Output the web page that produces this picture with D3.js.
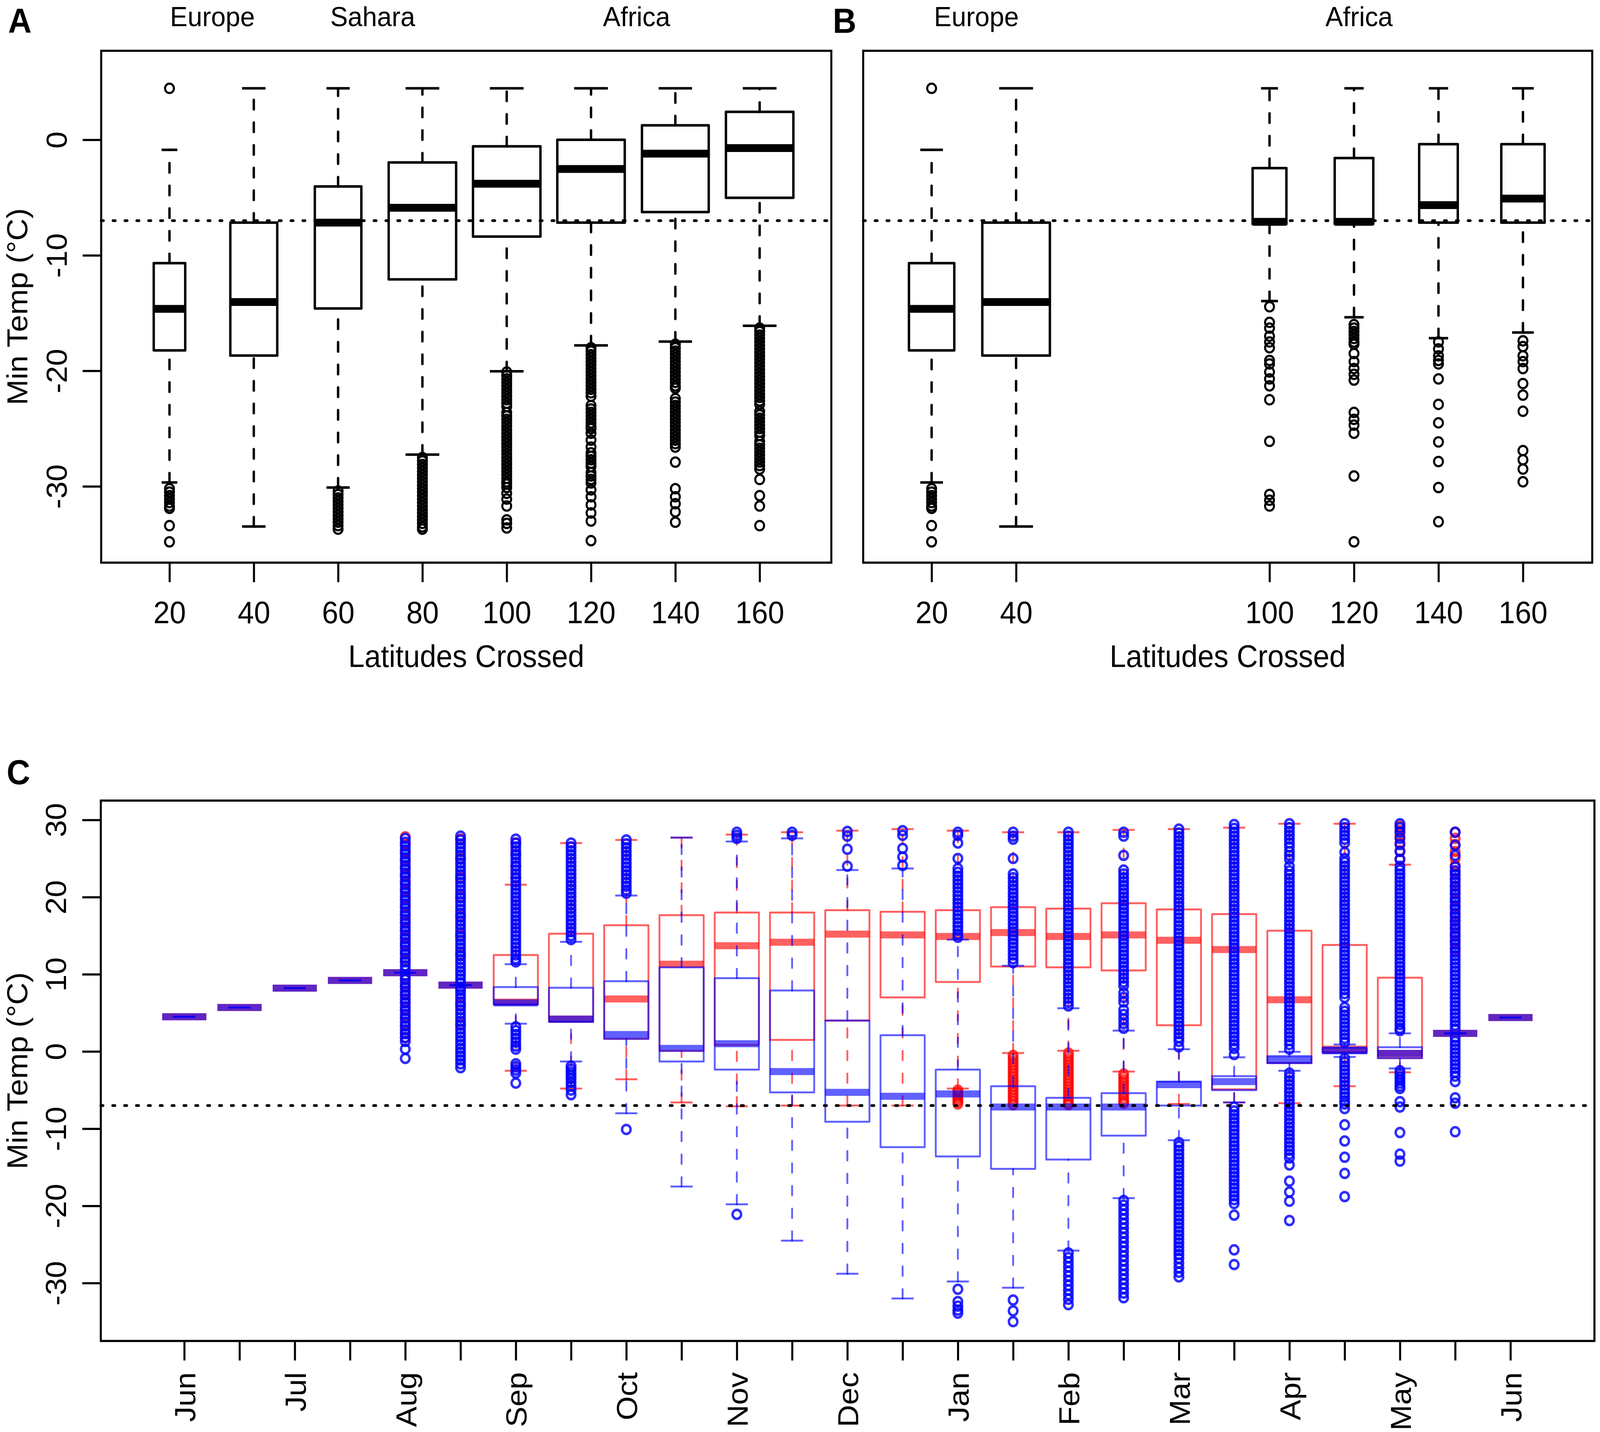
<!DOCTYPE html>
<html>
<head>
<meta charset="utf-8">
<script src="https://cdn.jsdelivr.net/npm/d3@7"></script>
<style>
  html, body { margin: 0; padding: 0; background: #ffffff; overflow: hidden; width: 100%; height: 100%; }
  svg { display: block; width: 100vw; height: 100vh; }
</style>
</head>
<body>
<svg id="chart" viewBox="0 0 4317 3665" preserveAspectRatio="none"></svg>
<script>
// ===================== DATA =====================
// Panel A : latitudes crossed (all birds)
const latA = [20, 40, 60, 80, 100, 120, 140, 160];
const nA   = [218, 484, 476, 1000, 1000, 1000, 980, 1000];
const loA  = [-29.66, -33.47, -30.1, -27.25, -20.04, -17.8, -17.47, -16.1];
const q1A  = [-18.23, -18.68, -14.6, -12.08, -8.38, -7.17, -6.26, -5.02];
const medA = [-14.64, -14.04, -7.17, -5.89, -3.81, -2.53, -1.2, -0.72];
const q3A  = [-10.68, -7.17, -4.04, -1.96, -0.57, 0.0, 1.25, 2.42];
const hiA  = [-0.87, 4.45, 4.45, 4.45, 4.45, 4.45, 4.45, 4.45];
const outA = [
  [4.45, -30.2, -30.5, -30.8, -31.1, -31.4, -31.7, -31.9, -33.4, -34.8],
  [],
  [-30.4, -30.7, -31.0, -31.3, -31.6, -31.9, -32.2, -32.5, -32.8, -33.1, -33.4, -33.7],
  [-27.5, -27.8, -28.1, -28.4, -28.7, -29.0, -29.3, -29.6, -29.9, -30.2, -30.5, -30.8, -31.1, -31.4, -31.7, -32.0, -32.3, -32.6, -32.9, -33.2, -33.5, -33.7],
  [-20.1, -20.4, -20.7, -21.0, -21.3, -21.6, -21.9, -22.2, -22.5, -22.8, -23.1, -23.6, -23.9, -24.2, -24.5, -24.8, -25.1, -25.4, -25.7, -26.0, -26.3, -26.6, -26.9, -27.2, -27.5, -27.8, -28.1, -28.4, -28.7, -29.0, -29.3, -29.6, -29.8, -30.1, -30.6, -31.1, -31.7, -32.9, -33.2, -33.6],
  [-18.0, -18.3, -18.6, -18.9, -19.2, -19.5, -19.8, -20.1, -20.4, -20.7, -21.0, -21.3, -21.6, -21.9, -22.2, -23.0, -23.3, -23.6, -23.9, -24.2, -24.5, -24.8, -25.0, -25.4, -26.0, -26.6, -27.1, -27.4, -27.7, -28.0, -28.3, -28.8, -29.1, -29.4, -29.7, -30.3, -30.9, -31.6, -32.3, -33.0, -34.7],
  [-17.7, -18.0, -18.3, -18.6, -18.9, -19.2, -19.5, -19.8, -20.1, -20.4, -20.7, -21.0, -21.3, -21.5, -22.4, -22.7, -23.0, -23.3, -23.6, -23.9, -24.2, -24.5, -24.8, -25.1, -25.4, -25.7, -26.0, -26.3, -26.6, -27.9, -30.2, -30.9, -31.5, -32.2, -33.1],
  [-16.3, -16.6, -16.9, -17.2, -17.5, -17.8, -18.1, -18.4, -18.7, -19.0, -19.3, -19.6, -19.9, -20.2, -20.5, -20.8, -21.1, -21.4, -21.7, -22.0, -22.3, -22.6, -22.9, -23.5, -23.8, -24.1, -24.4, -24.7, -25.0, -25.3, -25.6, -26.1, -26.4, -26.7, -27.0, -27.3, -27.6, -27.9, -28.2, -28.5, -29.4, -30.8, -31.7, -33.4]
];
const regionsA = [{ text: "Europe", at: 1.51 }, { text: "Sahara", at: 3.41 }, { text: "Africa", at: 6.54 }];

// Panel B
const latB = [20, 40, 100, 120, 140, 160];
const nB   = [218, 484, 121, 158, 158, 199];
const loB  = [-29.66, -33.47, -13.96, -15.36, -17.17, -16.68];
const q1B  = [-18.23, -18.68, -7.3, -7.28, -7.17, -7.17];
const medB = [-14.64, -14.04, -7.1, -7.1, -5.66, -5.09];
const q3B  = [-10.68, -7.17, -2.45, -1.58, -0.38, -0.38];
const hiB  = [-0.87, 4.45, 4.45, 4.45, 4.45, 4.45];
const outB = [
  [4.45, -30.2, -30.5, -30.8, -31.1, -31.4, -31.7, -31.9, -33.4, -34.8],
  [],
  [-14.45, -15.8, -16.3, -17.0, -17.5, -18.0, -19.1, -19.4, -20.1, -20.7, -21.3, -22.5, -26.1, -30.7, -31.2, -31.7],
  [-16.0, -16.3, -16.6, -16.9, -17.2, -17.5, -17.7, -18.5, -19.2, -19.8, -20.3, -20.8, -23.6, -24.2, -24.7, -25.4, -29.1, -34.8],
  [-17.5, -18.1, -18.7, -19.1, -19.4, -20.7, -22.9, -24.5, -26.15, -27.85, -30.1, -33.06],
  [-17.4, -17.9, -18.7, -19.2, -19.8, -21.1, -22.1, -23.5, -26.9, -27.7, -28.5, -29.6]
];
const regionsB = [{ text: "Europe", at: 1.53 }, { text: "Africa", at: 6.06 }];

const yTicksAB = [0, -10, -20, -30];
const thresholdTemp = -7;

// Panel C : half-month slots, red and blue series
const monthLabelsC = ["Jun", "", "Jul", "", "Aug", "", "Sep", "", "Oct", "", "Nov", "", "Dec", "", "Jan", "", "Feb", "", "Mar", "", "Apr", "", "May", "", "Jun"];
const yTicksC = [30, 20, 10, 0, -10, -20, -30];

const loRed  = [4.5, 5.7, 8.2, 9.2, 10.2, 8.6, -2.5, -4.8, -3.6, -6.6, -7.1, -7.0, -7.0, -7.0, -4.8, -0.2, 0.1, -2.6, -6.8, -6.6, -6.7, -4.5, -2.7, 2.35, 4.4];
const q1Red  = [4.5, 5.7, 8.2, 9.2, 10.2, 8.6, 6.1, 3.85, 1.64, 0.1, 0.85, 1.5, 4.0, 7.0, 9.0, 11.0, 10.9, 10.5, 3.4, -4.9, -1.5, -0.1, -0.85, 2.35, 4.4];
const medRed = [4.5, 5.7, 8.2, 9.2, 10.2, 8.6, 6.4, 4.2, 6.8, 11.3, 13.7, 14.15, 15.2, 15.1, 14.9, 15.4, 14.9, 15.1, 14.4, 13.2, 6.7, 0.3, -0.25, 2.35, 4.4];
const q3Red  = [4.5, 5.7, 8.2, 9.2, 10.2, 8.6, 12.5, 15.25, 16.35, 17.66, 18.0, 18.0, 18.3, 18.1, 18.3, 18.7, 18.5, 19.2, 18.4, 17.8, 15.65, 13.8, 9.56, 2.35, 4.4];
const hiRed  = [4.5, 5.7, 8.2, 9.2, 10.2, 8.6, 21.6, 27.0, 27.4, 27.7, 28.1, 28.4, 28.6, 28.8, 28.6, 28.4, 28.4, 28.7, 28.8, 29.0, 29.5, 29.5, 24.2, 2.35, 4.4];
const outRed = [
  [], [], [], [],
  [27.8, 26.8, 25.8, 24.8, 23.8, 22.8, 21.8, 20.8, 19.8, 18.8, 17.8, 16.8, 15.8, 14.8, 13.8, 12.8, 11.8, 9.4, 8.4, 7.4, 6.4, 5.4, 4.4, 3.4, 2.4, 1.8],
  [27.5, 25.0, 22.5, 20.0, 17.5, 15.0, 12.5, 6.0, 3.5],
  [27.0, 25.5, 24.0, 22.5],
  [], [], [], [], [], [], [],
  [-5.0, -5.3, -5.6, -5.9, -6.2, -6.5, -6.8],
  [-0.5, -0.9, -1.3, -1.7, -2.1, -2.5, -2.9, -3.3, -3.7, -4.1, -4.5, -4.9, -5.3, -5.7, -6.1, -6.5, -6.9],
  [-0.2, -0.6, -1.0, -1.4, -1.8, -2.2, -2.6, -3.0, -3.4, -3.8, -4.2, -4.6, -5.0, -5.4, -5.8, -6.2, -6.6, -6.9],
  [-2.9, -3.3, -3.7, -4.1, -4.5, -4.9, -5.3, -5.7, -6.1, -6.5, -6.7],
  [], [], [], [],
  [24.9, 26.0, 27.0, 27.9, 28.6, 29.2],
  [28.4, 27.6, 26.8, 25.9, 25.0, 24.1, 23.2, 22.3, 21.4, 20.5, 19.6, 18.7, 17.8, 16.9, 16.0, 15.1, 14.2, 13.3],
  []
];

const loBlue  = [4.5, 5.7, 8.2, 9.2, 10.2, 8.6, 3.6, -1.3, -8.0, -17.5, -19.8, -24.5, -28.8, -32.0, -29.8, -30.6, -25.8, -19.0, -11.5, -6.6, -2.5, -0.7, -2.2, 2.35, 4.4];
const q1Blue  = [4.5, 5.7, 8.2, 9.2, 10.2, 8.6, 6.1, 3.85, 1.64, -1.3, -2.35, -5.3, -9.1, -12.4, -13.6, -15.2, -14.0, -10.9, -7.0, -5.0, -1.5, -0.2, -0.85, 2.35, 4.4];
const medBlue = [4.5, 5.7, 8.2, 9.2, 10.2, 8.6, 6.3, 4.2, 2.2, 0.4, 1.0, -2.6, -5.3, -5.8, -5.5, -7.2, -7.2, -7.2, -4.3, -3.9, -1.1, 0.1, -0.25, 2.35, 4.4];
const q3Blue  = [4.5, 5.7, 8.2, 9.2, 10.2, 8.6, 8.35, 8.25, 9.1, 10.9, 9.5, 7.9, 4.0, 2.1, -2.35, -4.5, -6.0, -5.4, -3.9, -3.2, -0.6, 0.5, 0.55, 2.35, 4.4];
const hiBlue  = [4.5, 5.7, 8.2, 9.2, 10.2, 8.6, 11.3, 14.2, 20.2, 27.7, 27.2, 27.6, 23.5, 23.7, 14.5, 11.1, 5.6, 2.7, 0.3, -0.75, -0.05, 0.9, 2.35, 2.35, 4.4];
const outBlue = [
  [], [], [], [],
  [27.6, 27.1, 26.6, 26.1, 25.6, 25.1, 24.6, 24.1, 23.6, 23.1, 22.6, 22.1, 21.6, 21.1, 20.6, 20.1, 19.6, 19.1, 18.6, 18.1, 17.6, 17.1, 16.6, 16.1, 15.6, 15.1, 14.6, 14.1, 13.6, 13.1, 12.6, 12.1, 11.6, 11.1, 10.6, 9.8, 9.3, 8.8, 8.3, 7.8, 7.3, 6.8, 6.3, 5.8, 5.3, 4.8, 4.3, 3.8, 3.3, 2.8, 2.3, 1.8, 1.3, 0.3, -0.9],
  [27.9, 27.4, 26.9, 26.4, 25.9, 25.4, 24.9, 24.4, 23.9, 23.4, 22.9, 22.4, 21.9, 21.4, 20.9, 20.4, 19.9, 19.4, 18.9, 18.4, 17.9, 17.4, 16.9, 16.4, 15.9, 15.4, 14.9, 14.4, 13.9, 13.4, 12.9, 12.4, 11.9, 11.4, 10.9, 10.4, 9.9, 9.4, 8.9, 8.3, 7.9, 7.4, 6.9, 6.4, 5.9, 5.4, 4.9, 4.4, 3.9, 3.4, 2.9, 2.4, 1.9, 1.4, 0.9, 0.4, -0.1, -0.6, -1.1, -1.6, -2.1],
  [27.5, 27.0, 26.5, 26.0, 25.5, 25.0, 24.5, 24.0, 23.5, 23.0, 22.5, 22.0, 21.5, 21.0, 20.5, 20.0, 19.5, 19.0, 18.5, 18.0, 17.5, 17.0, 16.5, 16.0, 15.5, 15.0, 14.5, 14.0, 13.5, 13.0, 12.5, 12.0, 11.6, 3.2, 2.7, 2.2, 1.7, 1.2, 0.7, 0.3, -1.6, -2.0, -2.4, -2.8, -4.1],
  [27.0, 26.5, 26.0, 25.5, 25.0, 24.5, 24.0, 23.5, 23.0, 22.5, 22.0, 21.5, 21.0, 20.5, 20.0, 19.5, 19.0, 18.5, 18.0, 17.5, 17.0, 16.5, 16.0, 15.5, 15.0, 14.5, -1.9, -2.3, -2.7, -3.1, -3.5, -4.0, -4.5, -5.0, -5.6],
  [27.4, 26.9, 26.4, 25.9, 25.4, 24.9, 24.4, 23.9, 23.4, 22.9, 22.4, 21.9, 21.4, 20.9, 20.5, -10.1],
  [],
  [28.4, 28.0, 27.6, -21.1],
  [28.4, 28.0],
  [28.5, 27.9, 26.2, 24.0],
  [28.6, 28.0, 26.3, 25.2, 24.1],
  [28.4, 28.0, 27.0, 25.0, 23.7, 23.2, 22.7, 22.2, 21.7, 21.2, 20.7, 20.2, 19.7, 19.2, 18.7, 18.2, 17.7, 17.2, 16.7, 16.2, 15.7, 15.2, 14.8, -30.8, -32.4, -33.0, -33.5, -33.9],
  [28.4, 27.9, 27.5, 25.0, 23.0, 22.5, 22.0, 21.5, 21.0, 20.5, 20.0, 19.5, 19.0, 18.5, 18.0, 17.5, 17.0, 16.5, 16.0, 15.5, 15.0, 14.5, 14.0, 13.5, 13.0, 12.5, 12.0, 11.5, -32.2, -33.6, -35.0],
  [28.4, 27.9, 27.4, 26.9, 26.4, 25.9, 25.4, 24.9, 24.4, 23.9, 23.4, 22.9, 22.4, 21.9, 21.4, 20.9, 20.4, 19.9, 19.4, 18.9, 18.4, 17.9, 17.4, 16.9, 16.4, 15.9, 15.4, 14.9, 14.4, 13.9, 13.4, 12.9, 12.4, 11.9, 11.4, 10.9, 10.4, 9.9, 9.4, 8.9, 8.4, 7.9, 7.4, 6.9, 6.4, 5.9, -26.1, -26.7, -27.3, -27.9, -28.5, -29.1, -29.7, -30.3, -30.9, -31.5, -32.1, -32.8],
  [28.4, 27.9, 25.4, 23.5, 23.0, 22.5, 22.0, 21.5, 21.0, 20.5, 20.0, 19.5, 19.0, 18.5, 18.0, 17.5, 17.0, 16.5, 16.0, 15.5, 15.0, 14.5, 14.0, 13.5, 13.0, 12.5, 12.0, 11.5, 11.0, 10.5, 10.0, 9.5, 9.0, 8.5, 7.6, 7.0, 6.4, 5.4, 4.8, 4.2, 3.6, 3.0, -19.3, -19.9, -20.5, -21.1, -21.7, -22.3, -22.9, -23.5, -24.1, -24.7, -25.3, -25.9, -26.5, -27.1, -27.7, -28.3, -28.9, -29.5, -30.1, -30.7, -31.3, -31.9],
  [28.8, 28.3, 27.8, 27.3, 26.8, 26.3, 25.8, 25.3, 24.8, 24.3, 23.8, 23.3, 22.8, 22.3, 21.8, 21.3, 20.8, 20.3, 19.8, 19.3, 18.8, 18.3, 17.8, 17.3, 16.8, 16.3, 15.8, 15.3, 14.8, 14.3, 13.8, 13.3, 12.8, 12.3, 11.8, 11.3, 10.8, 10.3, 9.8, 9.3, 8.8, 8.3, 7.8, 7.3, 6.8, 6.3, 5.8, 5.3, 4.8, 4.3, 3.8, 3.3, 2.8, 2.3, 1.8, 1.3, 0.6, -11.8, -12.3, -12.8, -13.3, -13.8, -14.3, -14.8, -15.3, -15.8, -16.3, -16.8, -17.3, -17.8, -18.3, -18.8, -19.3, -19.8, -20.3, -20.8, -21.3, -21.8, -22.3, -22.8, -23.3, -23.8, -24.3, -24.8, -25.3, -25.8, -26.3, -26.8, -27.4, -28.0, -28.6, -29.2],
  [29.4, 28.9, 28.4, 27.9, 27.4, 26.9, 26.4, 25.9, 25.4, 24.9, 24.4, 23.9, 23.4, 22.9, 22.4, 21.9, 21.4, 20.9, 20.4, 19.9, 19.4, 18.9, 18.4, 17.9, 17.4, 16.9, 16.4, 15.9, 15.4, 14.9, 14.4, 13.9, 13.4, 12.9, 12.4, 11.9, 11.4, 10.9, 10.4, 9.9, 9.4, 8.9, 8.4, 7.9, 7.4, 6.9, 6.4, 5.9, 5.4, 4.9, 4.4, 3.9, 3.4, 2.9, 2.4, 1.9, 1.4, 0.9, 0.4, -0.4, -7.2, -7.7, -8.2, -8.7, -9.2, -9.7, -10.2, -10.7, -11.2, -11.7, -12.2, -12.7, -13.2, -13.7, -14.2, -14.7, -15.2, -15.7, -16.2, -16.7, -17.2, -17.7, -18.2, -18.7, -19.2, -19.7, -21.2, -25.7, -27.6],
  [29.5, 29.0, 28.5, 28.0, 27.5, 27.0, 26.5, 25.9, 25.4, 24.9, 24.0, 23.4, 22.9, 22.4, 21.9, 21.4, 20.9, 20.4, 19.9, 19.4, 18.9, 18.4, 17.9, 17.4, 16.9, 16.4, 15.9, 15.4, 14.9, 14.4, 13.9, 13.4, 12.9, 12.4, 11.9, 11.4, 10.9, 10.4, 9.9, 9.4, 8.9, 8.4, 7.9, 7.4, 6.9, 6.4, 5.9, 5.4, 4.9, 4.4, 3.9, 3.4, 2.9, 2.4, 1.9, 1.4, 0.9, 0.3, -2.8, -3.3, -3.8, -4.3, -4.8, -5.3, -5.8, -6.3, -6.8, -7.3, -7.8, -8.3, -8.8, -9.3, -9.8, -10.3, -10.8, -11.3, -11.8, -12.3, -12.8, -13.3, -13.8, -14.7, -16.8, -18.2, -19.4, -21.9],
  [29.5, 29.0, 28.5, 28.0, 27.5, 27.0, 25.8, 25.0, 24.5, 24.0, 23.5, 23.0, 22.5, 22.0, 21.5, 21.0, 20.5, 20.0, 19.5, 19.0, 18.5, 18.0, 17.5, 17.0, 16.5, 16.0, 15.5, 15.0, 14.5, 14.0, 13.5, 13.0, 12.5, 12.0, 11.5, 11.0, 10.5, 10.0, 9.5, 9.0, 8.5, 8.0, 7.5, 7.0, 5.7, 5.2, 4.7, 4.2, 3.7, 3.2, 2.7, 2.2, 1.7, 1.2, -0.9, -1.4, -1.9, -2.4, -2.9, -3.4, -3.9, -4.4, -4.9, -5.4, -5.9, -6.4, -6.8, -7.4, -9.5, -11.6, -13.7, -15.8, -18.8],
  [29.5, 29.0, 28.4, 27.6, 26.8, 25.9, 24.9, 24.0, 23.5, 23.0, 22.5, 22.0, 21.5, 21.0, 20.5, 20.0, 19.5, 19.0, 18.5, 18.0, 17.5, 17.0, 16.5, 16.0, 15.5, 15.0, 14.5, 14.0, 13.5, 13.0, 12.5, 12.0, 11.5, 11.0, 10.5, 10.0, 9.5, 9.0, 8.5, 8.0, 7.5, 7.0, 6.5, 6.0, 5.5, 5.0, 4.5, 4.0, 3.5, 3.0, 2.7, -2.5, -2.9, -3.3, -3.7, -4.1, -4.5, -4.8, -6.5, -7.2, -10.5, -13.3, -14.2],
  [28.4, 26.7, 25.4, 23.9, 23.4, 22.9, 22.4, 21.9, 21.4, 20.9, 20.4, 19.9, 19.4, 18.9, 18.4, 17.9, 17.4, 16.9, 16.4, 15.9, 15.4, 14.9, 14.4, 13.9, 13.4, 12.9, 12.4, 11.9, 11.4, 10.9, 10.4, 9.9, 9.4, 8.9, 8.4, 7.9, 7.4, 6.9, 6.4, 5.9, 5.4, 4.9, 4.4, 3.9, 3.4, 2.9, 1.8, 1.3, 0.8, 0.3, -0.2, -0.7, -1.2, -1.7, -2.2, -2.7, -3.2, -3.9, -6.0, -6.7, -10.4],
  []
];

// ===================== DRAWING =====================
const FONT = "'Liberation Sans', Arial, Helvetica, sans-serif";
const svg = d3.select("#chart");
svg.append("rect").attr("width", 4317).attr("height", 3665).attr("fill", "#ffffff");

const PA = { x0: 273, x1: 2243, y0: 130, y1: 1440 };
const PB = { x0: 2329, x1: 4296, y0: 130, y1: 1440 };
const PC = { x0: 272, x1: 4302, y0: 2049, y1: 3432 };

const yAB = d3.scaleLinear().domain([-36.6, 7.7]).range([PA.y1, PA.y0]);
const xA = d3.scaleLinear().domain([0.19, 8.85]).range([PA.x0, PA.x1]);
const xB = d3.scaleLinear().domain([0.19, 8.82]).range([PB.x0, PB.x1]);
const yC = d3.scaleLinear().domain([-37.5, 32.5]).range([PC.y1, PC.y0]);
const xC = d3.scaleLinear().domain([-0.51, 26.52]).range([PC.x0, PC.x1]);

function seg(g, x1, y1, x2, y2, color, w, dash, cap) {
  const l = g.append("line")
    .attr("x1", x1).attr("y1", y1).attr("x2", x2).attr("y2", y2)
    .attr("stroke", color).attr("stroke-width", w)
    .attr("stroke-linecap", cap || "butt");
  if (dash) l.attr("stroke-dasharray", dash);
  return l;
}

function drawBox(g, cx, halfW, s, ys, st) {
  if (s.hi > s.q3) seg(g, cx, ys(s.q3), cx, ys(s.hi), st.color, st.lw, st.dash, "round");
  if (s.lo < s.q1) seg(g, cx, ys(s.lo), cx, ys(s.q1), st.color, st.lw, st.dash, "round");
  seg(g, cx - halfW / 2, ys(s.hi), cx + halfW / 2, ys(s.hi), st.color, st.lw, null, "butt");
  seg(g, cx - halfW / 2, ys(s.lo), cx + halfW / 2, ys(s.lo), st.color, st.lw, null, "butt");
  g.append("rect")
    .attr("x", cx - halfW).attr("width", 2 * halfW)
    .attr("y", ys(s.q3)).attr("height", Math.max(0, ys(s.q1) - ys(s.q3)))
    .attr("fill", "none").attr("stroke", st.color).attr("stroke-width", st.lw)
    .attr("stroke-linejoin", "round");
  seg(g, cx - halfW, ys(s.med), cx + halfW, ys(s.med), st.color, st.medW, null, "butt");
  g.selectAll(null).data(s.out).enter().append("circle")
    .attr("cx", cx).attr("cy", d => ys(d)).attr("r", st.r)
    .attr("fill", "none").attr("stroke", st.pointColor || st.color).attr("stroke-width", st.cw);
}

function frame(P) {
  svg.append("rect").attr("x", P.x0).attr("y", P.y0)
    .attr("width", P.x1 - P.x0).attr("height", P.y1 - P.y0)
    .attr("fill", "none").attr("stroke", "#000").attr("stroke-width", 5.5);
}

function threshold(P, ys) {
  seg(svg, P.x0, ys(thresholdTemp), P.x1, ys(thresholdTemp), "#000", 7, "6,26", "round");
}

function text(x, y, str, size, opts) {
  opts = opts || {};
  const t = svg.append("text").attr("x", x).attr("y", y).text(str)
    .attr("font-family", FONT).attr("font-size", size).attr("fill", "#000")
    .attr("text-anchor", opts.anchor || "middle");
  if (opts.bold) t.attr("font-weight", "bold");
  if (opts.rotate) t.attr("transform", `rotate(${opts.rotate},${x},${y})`);
  return t;
}

function yAxisLeft(P, ys, ticks, labelOffset) {
  const g = svg.append("g").attr("transform", `translate(${P.x0},0)`)
    .call(d3.axisLeft(ys).tickValues(ticks).tickSize(50).tickFormat(d3.format("d")));
  g.select(".domain").remove();
  g.selectAll(".tick line").attr("stroke", "#000").attr("stroke-width", 5.5);
  g.selectAll(".tick text")
    .attr("x", 0).attr("y", -labelOffset).attr("dy", null)
    .attr("transform", "rotate(-90)").attr("text-anchor", "middle")
    .attr("font-family", FONT).attr("font-size", 79).attr("fill", "#000")
    .text(d => d < 0 ? "-" + Math.abs(d) : String(d));
  g.attr("font-family", FONT);
  return g;
}

function latPanel(P, xs, lats, ns, lo, q1, med, q3, hi, outs, regions, withYAxis) {
  const unit = xs(2) - xs(1);
  const nMax = d3.max(ns);
  const g = svg.append("g");
  lats.forEach((lat, i) => {
    const pos = lat / 20;
    const halfW = 0.4 * unit * Math.sqrt(ns[i] / nMax);
    drawBox(g, xs(pos), halfW,
      { lo: lo[i], q1: q1[i], med: med[i], q3: q3[i], hi: hi[i], out: outs[i] },
      yAB, { color: "#000", lw: 6.5, medW: 20, r: 12, cw: 5.5, dash: "24,34" });
  });
  threshold(P, yAB);
  frame(P);
  const ax = svg.append("g").attr("transform", `translate(0,${P.y1})`)
    .call(d3.axisBottom(xs).tickValues(lats.map(l => l / 20)).tickSize(50)
      .tickFormat((d, i) => String(lats[i])));
  ax.select(".domain").remove();
  ax.selectAll(".tick line").attr("stroke", "#000").attr("stroke-width", 5.5);
  ax.selectAll(".tick text").attr("y", 155).attr("dy", null)
    .attr("font-family", FONT).attr("font-size", 79).attr("fill", "#000");
  text((P.x0 + P.x1) / 2, 1707, "Latitudes Crossed", 79);
  if (withYAxis) {
    yAxisLeft(P, yAB, yTicksAB, 93);
    text(74, (P.y0 + P.y1) / 2, "Min Temp (°C)", 79, { rotate: -90 });
  }
  regions.forEach(r => text(xs(r.at), 67, r.text, 71));
}

latPanel(PA, xA, latA, nA, loA, q1A, medA, q3A, hiA, outA, regionsA, true);
latPanel(PB, xB, latB, nB, loB, q1B, medB, q3B, hiB, outB, regionsB, false);

// ---------- Panel C ----------
const slotsC = monthLabelsC.map((d, i) => i + 1);
const unitC = xC(2) - xC(1);
const halfWC = 0.4 * unitC;
const gRed = svg.append("g");
const gBlue = svg.append("g");
slotsC.forEach((pos, i) => {
  drawBox(gRed, xC(pos), halfWC,
    { lo: loRed[i], q1: q1Red[i], med: medRed[i], q3: q3Red[i], hi: hiRed[i], out: outRed[i] },
    yC, { color: "rgba(255,0,0,0.62)", pointColor: "rgba(255,0,0,0.72)", lw: 5, medW: 18, r: 11.5, cw: 6.5, dash: "24,34" });
});
slotsC.forEach((pos, i) => {
  drawBox(gBlue, xC(pos), halfWC,
    { lo: loBlue[i], q1: q1Blue[i], med: medBlue[i], q3: q3Blue[i], hi: hiBlue[i], out: outBlue[i] },
    yC, { color: "rgba(0,0,255,0.62)", pointColor: "rgba(0,0,255,0.82)", lw: 5, medW: 18, r: 11.5, cw: 6.5, dash: "24,34" });
});
threshold(PC, yC);
frame(PC);

const axC = svg.append("g").attr("transform", `translate(0,${PC.y1})`)
  .call(d3.axisBottom(xC).tickValues(slotsC).tickSize(50)
    .tickFormat((d, i) => monthLabelsC[i]));
axC.select(".domain").remove();
axC.selectAll(".tick line").attr("stroke", "#000").attr("stroke-width", 5.5);
axC.selectAll(".tick text")
  .attr("x", -80).attr("y", 29).attr("dy", null)
  .attr("transform", "rotate(-90)").attr("text-anchor", "end")
  .attr("font-family", FONT).attr("font-size", 79).attr("fill", "#000");

yAxisLeft(PC, yC, yTicksC, 94);
text(74, (PC.y0 + PC.y1) / 2, "Min Temp (°C)", 79, { rotate: -90 });

// panel letters
text(22, 84, "A", 88, { anchor: "start", bold: true });
text(2247, 84, "B", 88, { anchor: "start", bold: true });
text(18, 2007, "C", 88, { anchor: "start", bold: true });
</script>
</body>
</html>
